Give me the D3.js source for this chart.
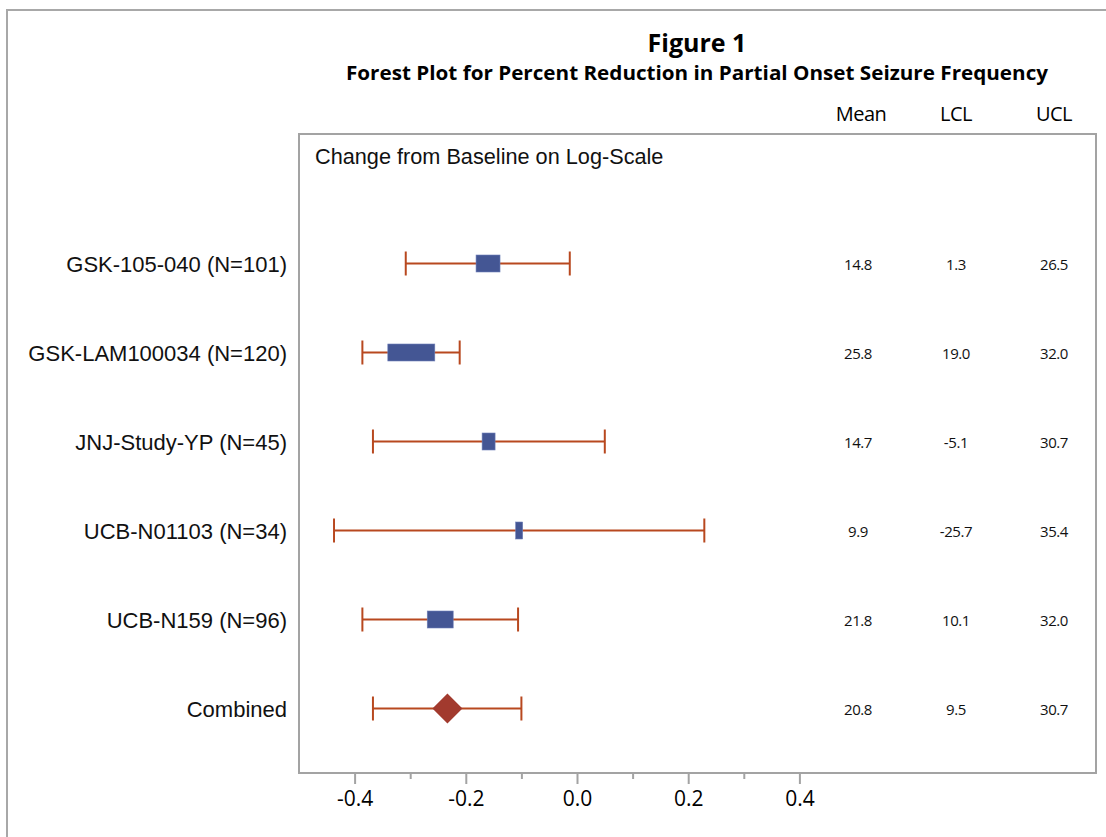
<!DOCTYPE html>
<html>
<head>
<meta charset="utf-8">
<script src="https://cdn.jsdelivr.net/npm/d3@7"></script>
<style>
  html, body { margin: 0; padding: 0; background: #fff; }
  svg { display: block; }
</style>
</head>
<body>
<svg id="chart" width="1106" height="837"></svg>
<script>
// ---- data ----
const studies = ["GSK-105-040 (N=101)", "GSK-LAM100034 (N=120)", "JNJ-Study-YP (N=45)", "UCB-N01103 (N=34)", "UCB-N159 (N=96)", "Combined"];
const logMean = [-0.160, -0.298, -0.159, -0.104, -0.246, -0.233];
const logLow  = [-0.308, -0.386, -0.367, -0.437, -0.386, -0.367];
const logHigh = [-0.013, -0.211, 0.050, 0.229, -0.106, -0.100];
const studyWeight = [20.5, 40.2, 11.1, 6.0, 22.2, null];
const meanPct = ["14.8", "25.8", "14.7", "9.9", "21.8", "20.8"];
const lclPct  = ["1.3", "19.0", "-5.1", "-25.7", "10.1", "9.5"];
const uclPct  = ["26.5", "32.0", "30.7", "35.4", "32.0", "30.7"];
const columnHeaders = ["Mean", "LCL", "UCL"];
const xTicks = [-0.4, -0.2, 0.0, 0.2, 0.4];
const xMinorTicks = [-0.3, -0.1, 0.1, 0.3];
const titleText = "Figure 1";
const subtitleText = "Forest Plot for Percent Reduction in Partial Onset Seizure Frequency";
const insetText = "Change from Baseline on Log-Scale";

// ---- layout ----
const svg = d3.select("#chart");
const frame = { left: 299, right: 1096, top: 134, bottom: 773 };

const x = d3.scaleLinear().domain([-0.5, 0.5]).range([frame.left, frame.left + 556]);
const y = d3.scalePoint().domain(studies).range([263.5, 708.5]);
const col = d3.scalePoint().domain(columnHeaders).range([858, 1054]);
const boxW = d3.scaleLinear().domain([0, d3.max(studyWeight)]).range([0, 47]);

const whiskerColor = "#b8481f";
const boxColor = "#445694";
const diamondColor = "#a23a2e";
const frameColor = "#a3a3a3";

// outer border
svg.append("rect")
  .attr("x", 7).attr("y", 10).attr("width", 1200).attr("height", 900)
  .attr("fill", "none").attr("stroke", "#a8a8a8").attr("stroke-width", 2);

// titles
svg.append("text")
  .attr("x", 697).attr("y", 52)
  .attr("text-anchor", "middle")
  .style("font-family", "'Open Sans', sans-serif")
  .style("font-weight", "bold").style("font-size", "25px")
  .attr("fill", "#000")
  .text(titleText);

svg.append("text")
  .attr("x", 697).attr("y", 80)
  .attr("text-anchor", "middle")
  .attr("textLength", 702).attr("lengthAdjust", "spacingAndGlyphs")
  .style("font-family", "'Open Sans', sans-serif")
  .style("font-weight", "bold").style("font-size", "19px")
  .attr("fill", "#000")
  .text(subtitleText);

// column headers
svg.append("g").selectAll("text")
  .data(columnHeaders).join("text")
  .attr("x", d => col(d) + (d === "Mean" ? 3 : 0)).attr("y", 121)
  .attr("text-anchor", "middle")
  .style("font-family", "'Open Sans', sans-serif")
  .style("font-size", "20px")
  .style("letter-spacing", "-0.5px")
  .attr("fill", "#000")
  .text(d => d);

// plot frame
svg.append("rect")
  .attr("x", frame.left).attr("y", frame.top)
  .attr("width", frame.right - frame.left).attr("height", frame.bottom - frame.top)
  .attr("fill", "none").attr("stroke", frameColor).attr("stroke-width", 2);

// inset text
svg.append("text")
  .attr("x", 315).attr("y", 164)
  .style("font-family", "'Liberation Sans', Arial, sans-serif")
  .style("font-size", "21.7px")
  .attr("fill", "#111")
  .text(insetText);

// x axis
const axisG = svg.append("g").attr("transform", `translate(0,${frame.bottom})`);
axisG.call(d3.axisBottom(x).tickValues(xTicks).tickSize(11).tickPadding(7)
  .tickFormat(d => d.toFixed(1)));
axisG.select(".domain").remove();
axisG.selectAll(".tick line").attr("stroke", frameColor).attr("stroke-width", 2);
axisG.selectAll(".tick text")
  .style("font-family", "'Open Sans', sans-serif")
  .style("font-size", "21px")
  .attr("fill", "#000");
const minorG = svg.append("g").attr("transform", `translate(0,${frame.bottom})`);
minorG.call(d3.axisBottom(x).tickValues(xMinorTicks).tickSize(6).tickFormat(""));
minorG.select(".domain").remove();
minorG.selectAll(".tick line").attr("stroke", frameColor).attr("stroke-width", 2);

// study labels
svg.append("g").selectAll("text")
  .data(studies).join("text")
  .attr("x", 287).attr("y", d => y(d) + 8)
  .attr("text-anchor", "end")
  .style("font-family", "'Liberation Sans', Arial, sans-serif")
  .style("font-size", "22px")
  .attr("fill", "#111")
  .text(d => d);

// rows
const rows = studies.map((s, i) => ({
  s, mean: logMean[i], lo: logLow[i], hi: logHigh[i], w: studyWeight[i],
  m: meanPct[i], l: lclPct[i], u: uclPct[i]
}));

const rowG = svg.append("g").selectAll("g").data(rows).join("g");

// whiskers
rowG.append("line")
  .attr("x1", d => x(d.lo)).attr("x2", d => x(d.hi))
  .attr("y1", d => y(d.s)).attr("y2", d => y(d.s))
  .attr("stroke", whiskerColor).attr("stroke-width", 2);
rowG.append("line")
  .attr("x1", d => x(d.lo)).attr("x2", d => x(d.lo))
  .attr("y1", d => y(d.s) - 12).attr("y2", d => y(d.s) + 12)
  .attr("stroke", whiskerColor).attr("stroke-width", 2);
rowG.append("line")
  .attr("x1", d => x(d.hi)).attr("x2", d => x(d.hi))
  .attr("y1", d => y(d.s) - 12).attr("y2", d => y(d.s) + 12)
  .attr("stroke", whiskerColor).attr("stroke-width", 2);

// boxes
rowG.filter(d => d.w !== null).append("rect")
  .attr("x", d => x(d.mean) - boxW(d.w) / 2)
  .attr("y", d => y(d.s) - 8.5)
  .attr("width", d => boxW(d.w))
  .attr("height", 17)
  .attr("fill", boxColor)
  .attr("stroke", "#6f7fb8").attr("stroke-width", 0.6);

// diamond for combined
rowG.filter(d => d.w === null).append("path")
  .attr("d", d => {
    const cx = x(d.mean), cy = y(d.s), r = 15;
    return `M${cx - r},${cy}L${cx},${cy - r}L${cx + r},${cy}L${cx},${cy + r}Z`;
  })
  .attr("fill", diamondColor);

// value columns
const valFont = g => g
  .attr("text-anchor", "middle")
  .style("font-family", "'Open Sans', sans-serif")
  .style("font-size", "15px")
  .style("letter-spacing", "-0.4px")
  .attr("fill", "#111");
rowG.append("text").attr("x", col("Mean")).attr("y", d => y(d.s) + 6).call(valFont).text(d => d.m);
rowG.append("text").attr("x", col("LCL")).attr("y", d => y(d.s) + 6).call(valFont).text(d => d.l);
rowG.append("text").attr("x", col("UCL")).attr("y", d => y(d.s) + 6).call(valFont).text(d => d.u);
</script>
</body>
</html>
